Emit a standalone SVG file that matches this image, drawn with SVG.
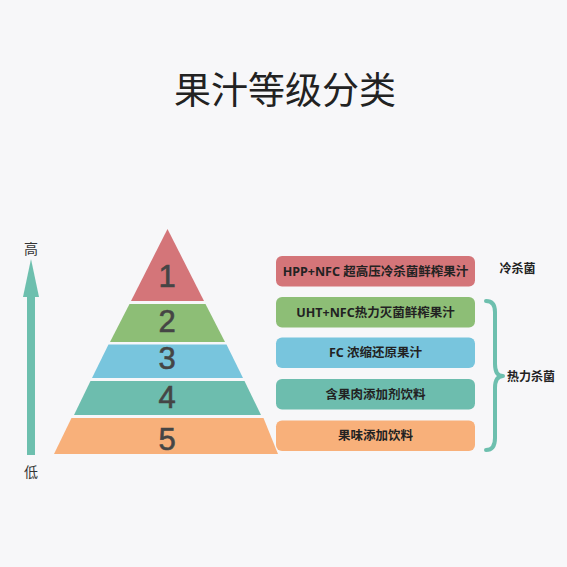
<svg xmlns="http://www.w3.org/2000/svg" width="567" height="567" viewBox="0 0 567 567">
<style>
.num{font-family:"Liberation Sans",Arial,sans-serif;font-size:31px;fill:#454545;stroke:#454545;stroke-width:0.6;text-anchor:middle}
.lbl{font-family:"Noto Sans","Noto Sans CJK SC",sans-serif;font-size:12.5px;font-weight:bold;fill:#222;text-anchor:middle}
.side{font-family:"Noto Sans CJK SC",sans-serif;font-size:12px;font-weight:bold;fill:#222;text-anchor:middle}
.axis{font-family:"Noto Sans CJK SC",sans-serif;font-size:14px;fill:#333;text-anchor:middle}
</style>
<rect width="567" height="567" fill="#f7f7f9"/>
<text x="285" y="104" font-family="Noto Sans CJK SC, sans-serif" font-size="37" fill="#222" text-anchor="middle">果汁等级分类</text>
<g id="axis">
<rect x="27" y="294" width="8" height="161" fill="#6dbfae"/>
<polygon points="31,259 39,297 23,297" fill="#6dbfae"/>
<text class="axis" x="31" y="254">高</text>
<text class="axis" x="31" y="477">低</text>
</g>
<g id="level1"><polygon points="167.5,229 204,301 131,301" fill="#d47579"/><text class="num" x="167" y="287">1</text></g>
<g id="level2"><polygon points="129.5,304 205.5,304 225,342 110,342" fill="#8dbe76"/><text class="num" x="167" y="332">2</text></g>
<g id="level3"><polygon points="108.5,344.5 226.5,344.5 243,378 92,378" fill="#78c5dd"/><text class="num" x="167" y="369">3</text></g>
<g id="level4"><polygon points="90.5,381 244.5,381 261,415 74,415" fill="#6dbdae"/><text class="num" x="167" y="408">4</text></g>
<g id="level5"><polygon points="71.5,418 263.5,418 278,454 54,454" fill="#f8b07a"/><text class="num" x="167" y="450">5</text></g>
<g id="box1"><rect x="276" y="256" width="199" height="30.5" rx="6" fill="#d47579"/><text class="lbl" x="375.5" y="275.5">HPP+NFC 超高压冷杀菌鲜榨果汁</text></g>
<g id="box2"><rect x="276" y="297" width="199" height="30.5" rx="6" fill="#8dbe76"/><text class="lbl" x="375.5" y="316.5">UHT+NFC热力灭菌鲜榨果汁</text></g>
<g id="box3"><rect x="276" y="337.5" width="199" height="30.5" rx="6" fill="#78c5dd"/><text class="lbl" x="375.5" y="357">FC 浓缩还原果汁</text></g>
<g id="box4"><rect x="276" y="379" width="199" height="30.5" rx="6" fill="#6dbdae"/><text class="lbl" x="375.5" y="398.5">含果肉添加剂饮料</text></g>
<g id="box5"><rect x="276" y="420.5" width="199" height="30.5" rx="6" fill="#f8b07a"/><text class="lbl" x="375.5" y="440">果味添加饮料</text></g>
<g id="connectors">
<path d="M486,301 Q495,301 495,312 L495,364 Q495,376 503,376 Q495,376 495,388 L495,438 Q495,450 486,450" fill="none" stroke="#6dbfae" stroke-width="4" stroke-linecap="round" stroke-linejoin="round"/>
</g>
<text class="side" x="517.5" y="273">冷杀菌</text>
<text class="side" x="531" y="381">热力杀菌</text>
</svg>
